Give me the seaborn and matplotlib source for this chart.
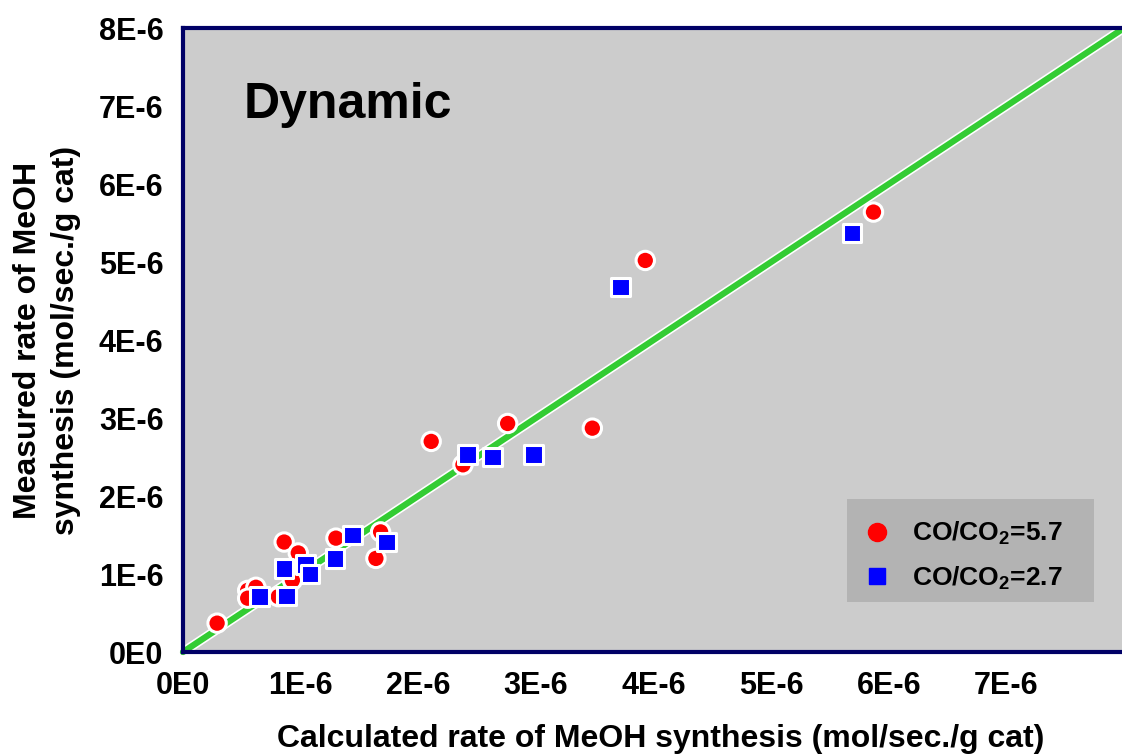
import numpy as np
import pandas as pd
import matplotlib
matplotlib.use("Agg")
import matplotlib.pyplot as plt
import matplotlib.patheffects as pe
from matplotlib.lines import Line2D
from matplotlib.patches import Rectangle
import seaborn as sns

# ---- data (rates in mol/sec./g cat) ----
red_calc = [0.29, 0.55, 0.62, 0.55, 0.81, 0.86, 0.98, 0.93, 1.30, 1.68, 1.64,
            2.11, 2.38, 2.76, 3.48, 3.93, 5.87]
red_meas = [0.37, 0.79, 0.83, 0.69, 0.71, 1.41, 1.27, 0.92, 1.46, 1.54, 1.20,
            2.70, 2.40, 2.93, 2.87, 5.02, 5.64]
blue_calc = [0.65, 0.88, 0.86, 1.04, 1.08, 1.29, 1.44, 1.73, 2.42, 2.63, 2.98,
             3.72, 5.69]
blue_meas = [0.71, 0.72, 1.07, 1.12, 1.00, 1.20, 1.50, 1.41, 2.53, 2.50, 2.53,
             4.68, 5.37]
series_labels = ["CO/CO$_{\\mathbf{2}}$=5.7", "CO/CO$_{\\mathbf{2}}$=2.7"]
parity = [0.0, 8.0]
tick_vals = [0, 1, 2, 3, 4, 5, 6, 7, 8]
tick_labels = ["0E0", "1E-6", "2E-6", "3E-6", "4E-6", "5E-6", "6E-6", "7E-6", "8E-6"]
scale = 1e-6

df = pd.DataFrame({
    "calc": np.array(red_calc + blue_calc) * scale,
    "meas": np.array(red_meas + blue_meas) * scale,
    "series": [series_labels[0]] * len(red_calc) + [series_labels[1]] * len(blue_calc),
})

sns.set_style("white")
plt.rcParams["font.family"] = ["Liberation Sans", "DejaVu Sans"]
plt.rcParams["font.weight"] = "bold"
plt.rcParams["text.color"] = "black"
plt.rcParams["axes.labelcolor"] = "black"
plt.rcParams["xtick.color"] = "black"
plt.rcParams["ytick.color"] = "black"
plt.rcParams["mathtext.fontset"] = "custom"
plt.rcParams["mathtext.bf"] = "Liberation Sans:bold"
plt.rcParams["mathtext.rm"] = "Liberation Sans:bold"

navy = "#000066"
fig = plt.figure(figsize=(11.22, 7.55), dpi=100)
ax = fig.add_axes([0.1631, 0.1364, 0.8387, 0.8265])
ax.set_facecolor("#cccccc")

# parity line
ax.plot(np.array(parity) * scale, np.array(parity) * scale, color="#33cc33", lw=4.5,
        solid_capstyle="round", clip_on=False, zorder=2,
        path_effects=[pe.Stroke(linewidth=6.8, foreground="white"), pe.Normal()])

sns.scatterplot(data=df, x="calc", y="meas", hue="series", style="series",
                markers={series_labels[0]: "o", series_labels[1]: "s"},
                palette={series_labels[0]: "#ff0000", series_labels[1]: "#0000ff"},
                s=175, edgecolor="white", linewidth=2.2, legend=False, zorder=3, ax=ax)

ax.set_xlim(0, 8 * scale)
ax.set_ylim(0, 8 * scale)
ax.set_xticks([v * scale for v in tick_vals[:-1]])
ax.set_xticklabels(tick_labels[:-1])
ax.set_yticks([v * scale for v in tick_vals])
ax.set_yticklabels(tick_labels)

for side in ["left", "bottom", "top"]:
    ax.spines[side].set_color(navy)
    ax.spines[side].set_linewidth(3)
ax.spines["right"].set_visible(False)
ax.tick_params(axis="both", direction="in", length=10, width=3, color=navy,
               labelcolor="black", labelsize=22)
ax.tick_params(axis="x", pad=14)
ax.tick_params(axis="y", pad=14)
for lab in ax.get_xticklabels() + ax.get_yticklabels():
    lab.set_fontweight("bold")

ax.set_xlabel("Calculated rate of MeOH synthesis (mol/sec./g cat)", fontsize=23,
              fontweight="bold", va="center", color="black")
ax.xaxis.set_label_coords(0.508, -0.14)
ax.set_ylabel("Measured rate of MeOH\nsynthesis (mol/sec./g cat)", fontsize=23,
              fontweight="bold", va="center", linespacing=1.35, color="black")
ax.yaxis.set_label_coords(-0.1445, 0.5)

ax.text(0.064, 0.856, "Dynamic", transform=ax.transAxes, fontsize=36,
        fontweight="bold", va="baseline", ha="left", color="black")

# legend box
ax.add_patch(Rectangle((0.7056, 0.080), 0.968 - 0.7056, 0.245 - 0.080,
                       transform=ax.transAxes, facecolor="#b3b3b3",
                       edgecolor="none", zorder=4))
handles = [Line2D([], [], marker="o", ls="", color="#ff0000", markersize=13),
           Line2D([], [], marker="s", ls="", color="#0000ff", markersize=12)]
leg = ax.legend(handles, series_labels, loc="upper left",
                bbox_to_anchor=(0.7125, 0.233), frameon=False, borderpad=0,
                handlelength=0.76, handletextpad=0.95, labelspacing=0.65,
                prop={"size": 19, "weight": "bold"})
for t in leg.get_texts():
    t.set_color("black")
leg.set_zorder(5)

fig.savefig("out.png", dpi=100)
